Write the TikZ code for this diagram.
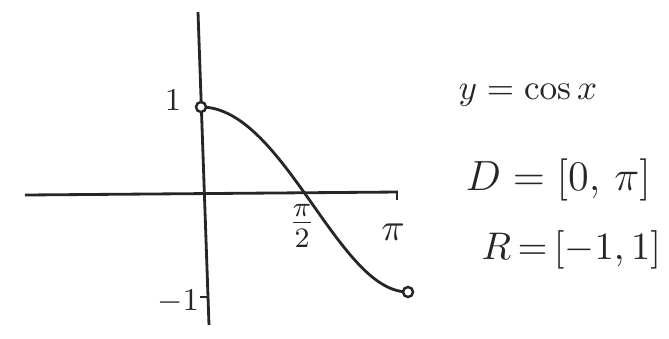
\documentclass[tikz,border=0pt]{standalone}
\usetikzlibrary{positioning}

\begin{document}
\begin{tikzpicture}[
    x=0.01cm, y=-0.01cm,
    axisline/.style={line width=0.8pt, draw=black!85},
    graphline/.style={line width=0.8pt, draw=black!85},
    endpoint/.style={
        circle,
        draw=black!85,
        fill=white,
        line width=0.7pt,
        inner sep=0pt,
        minimum size=0.1cm
    },
    ticklabel/.style={font=\fontsize{9}{10}\selectfont, text=black!85, inner sep=1pt},
    rangetext/.style={font=\fontsize{12}{14}\selectfont, text=black!85, anchor=west, inner sep=0pt}
]
\useasboundingbox (0,0) rectangle (669,338);
% axes
\coordinate (xleft) at (25,195);
\coordinate (xright) at (398,192);
\coordinate (ytop) at (198,12);
\coordinate (ybottom) at (209,325);
\draw[axisline] (xleft) -- (xright);
\draw[axisline] (ytop) -- (ybottom);
% ticks
\coordinate (pitick) at (397,192);
\coordinate (pitickend) at (397,200);
\coordinate (mtick) at (200,297);
\coordinate (mtickend) at (209,297);
\draw[axisline] (pitick) -- (pitickend);
\draw[axisline] (mtick) -- (mtickend);
% curve
\draw[graphline] plot[domain=0:180, samples=80]
    ({201+1.15*\x},{193-92.5*cos(\x)+6.5*cos(\x)*cos(\x)});
\node[endpoint] (start) at (201,107) {};
\node[endpoint] (finish) at (408,292) {};
% labels
\node[ticklabel] (one) at (173,100) {$1$};
\node[ticklabel] (minusone) at (178,302) {$-1$};
\node[ticklabel, font=\fontsize{12}{14}\selectfont] (halfpi) at (302,226) {$\frac{\pi}{2}$};
\node[ticklabel, font=\fontsize{11}{13}\selectfont] (pilabel) at (393,232) {$\pi$};
\node[rangetext, font=\fontsize{10}{12}\selectfont] (func) at (458,95) {$y=\cos x$};
\node[rangetext] (domain) at (465,180) {$D\;{=}\;[0,\,\pi]$};
\node[rangetext, font=\fontsize{11}{13}\selectfont] (range) at (481,250) {$R\,{=}\,[{-}1,1]$};
\end{tikzpicture}
\end{document}
